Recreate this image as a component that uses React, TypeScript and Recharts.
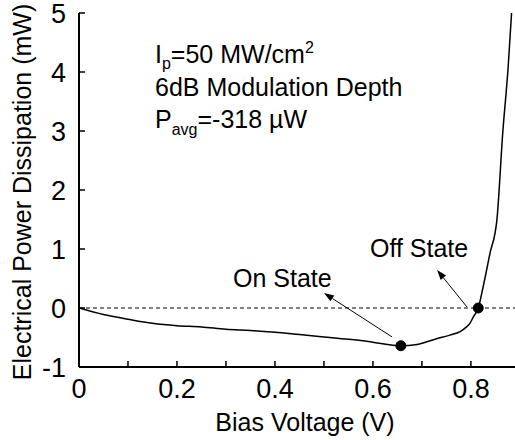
import { LineChart, Line, XAxis, YAxis, ReferenceLine, ReferenceDot, Customized } from 'recharts';

const voltage = [0, 0.05, 0.1, 0.15, 0.2, 0.25, 0.3, 0.35, 0.4, 0.45, 0.5, 0.55, 0.6, 0.63, 0.657, 0.69, 0.73, 0.757, 0.778, 0.791, 0.798, 0.805, 0.815, 0.825, 0.839, 0.853, 0.865, 0.876, 0.883];
const power = [0, -0.11, -0.19, -0.26, -0.3, -0.32, -0.36, -0.38, -0.41, -0.45, -0.49, -0.53, -0.58, -0.62, -0.64, -0.62, -0.52, -0.46, -0.4, -0.32, -0.26, -0.15, 0, 0.36, 0.93, 1.49, 2.97, 4.08, 5.0];

const xTicks = [0, 0.1, 0.2, 0.3, 0.4, 0.5, 0.6, 0.7, 0.8];
const yTicks = [-1, 0, 1, 2, 3, 4, 5];

const onState = { x: 0.657, y: -0.64 };
const offState = { x: 0.815, y: 0 };
const onArrow = [{ x: 0.639, y: -0.49 }, { x: 0.5, y: 0.254 }];
const offArrow = [{ x: 0.792, y: 0.017 }, { x: 0.731, y: 0.644 }];

const data = voltage.map((v, i) => ({ v, p: power[i] }));

const FONT = '"Liberation Sans", Arial, sans-serif';

function BottomTick(props: any) {
    const { x, y, payload } = props;
    const v = payload.value;
    const major = Math.round(v * 10) % 2 === 0;
    return (
        <g>
            <line x1={x} y1={y} x2={x} y2={y - 6} stroke="#000" strokeWidth={1.5} />
            {major && (
                <text x={x} y={y + 31} textAnchor="middle" fontSize={27} fontFamily={FONT} fill="#000">
                    {String(v)}
                </text>
            )}
        </g>
    );
}

function TopTick(props: any) {
    const { x, y } = props;
    return <line x1={x} y1={y} x2={x} y2={y + 6} stroke="#000" strokeWidth={1.5} />;
}

function LeftTick(props: any) {
    const { x, y, payload } = props;
    return (
        <g>
            <line x1={x} y1={y} x2={x + 6} y2={y} stroke="#000" strokeWidth={1.5} />
            <text x={x - 13} y={y + 10} textAnchor="end" fontSize={27} fontFamily={FONT} fill="#000">
                {String(payload.value)}
            </text>
        </g>
    );
}

function Arrow(props: any) {
    const { x1, y1, x2, y2 } = props;
    const a = Math.atan2(y2 - y1, x2 - x1);
    const len = 10;
    const w = 3.5;
    const bx = x2 - len * Math.cos(a);
    const by = y2 - len * Math.sin(a);
    const px = -Math.sin(a) * w;
    const py = Math.cos(a) * w;
    return (
        <g>
            <line x1={x1} y1={y1} x2={bx} y2={by} stroke="#000" strokeWidth={1} />
            <polygon points={`${x2},${y2} ${bx + px},${by + py} ${bx - px},${by - py}`} fill="#000" />
        </g>
    );
}

function Texts() {
    return (
        <g fontFamily={FONT} fill="#000">
            <text x={155} y={63} fontSize={25}>
                I<tspan fontSize={16} dy={6}>p</tspan>
                <tspan dy={-6}>=50 MW/cm</tspan>
                <tspan fontSize={16} dy={-10}>2</tspan>
            </text>
            <text x={155} y={96} fontSize={25}>6dB Modulation Depth</text>
            <text x={155} y={128} fontSize={25}>
                P<tspan fontSize={16} dy={7}>avg</tspan>
                <tspan dy={-7}>=-318 µW</tspan>
            </text>
            <text x={233} y={287} fontSize={25}>On State</text>
            <text x={370} y={257} fontSize={25}>Off State</text>
            <text x={305} y={431} fontSize={25} textAnchor="middle">Bias Voltage (V)</text>
            <text x={31} y={192} fontSize={25} textAnchor="middle" transform="rotate(-90 31 192)">
                Electrical Power Dissipation (mW)
            </text>
        </g>
    );
}

export default function App() {
    return (
        <div style={{ position: 'absolute', left: 0, top: 0, background: '#fff' }}>
            <LineChart width={515} height={440} data={data} margin={{ top: 13, right: 0, bottom: 0, left: 0 }}>
                <XAxis
                    dataKey="v"
                    type="number"
                    domain={[0, 0.89]}
                    ticks={xTicks}
                    interval={0}
                    height={73}
                    tickSize={0}
                    tickMargin={0}
                    tickLine={false}
                    tick={<BottomTick />}
                    axisLine={{ stroke: '#000', strokeWidth: 2 }}
                    allowDataOverflow
                />
                <XAxis
                    xAxisId="top"
                    orientation="top"
                    dataKey="v"
                    type="number"
                    domain={[0, 0.89]}
                    ticks={xTicks}
                    interval={0}
                    height={0}
                    tickSize={0}
                    tickMargin={0}
                    tickLine={false}
                    tick={<TopTick />}
                    axisLine={{ stroke: '#000', strokeWidth: 2 }}
                    allowDataOverflow
                />
                <YAxis
                    type="number"
                    domain={[-1, 5]}
                    ticks={yTicks}
                    interval={0}
                    width={79}
                    tickSize={0}
                    tickMargin={0}
                    tickLine={false}
                    tick={<LeftTick />}
                    axisLine={{ stroke: '#000', strokeWidth: 2 }}
                    allowDataOverflow
                />
                <ReferenceLine y={0} stroke="#000" strokeWidth={1} strokeDasharray="4 3" />
                <Line
                    type="monotone"
                    dataKey="p"
                    stroke="#000"
                    strokeWidth={1.5}
                    dot={false}
                    isAnimationActive={false}
                />
                <ReferenceLine segment={onArrow} shape={(p: any) => <Arrow {...p} />} />
                <ReferenceLine segment={offArrow} shape={(p: any) => <Arrow {...p} />} />
                <ReferenceDot x={onState.x} y={onState.y} r={5} fill="#000" stroke="#000" />
                <ReferenceDot x={offState.x} y={offState.y} r={5} fill="#000" stroke="#000" />
                <Customized component={Texts} />
            </LineChart>
        </div>
    );
}
